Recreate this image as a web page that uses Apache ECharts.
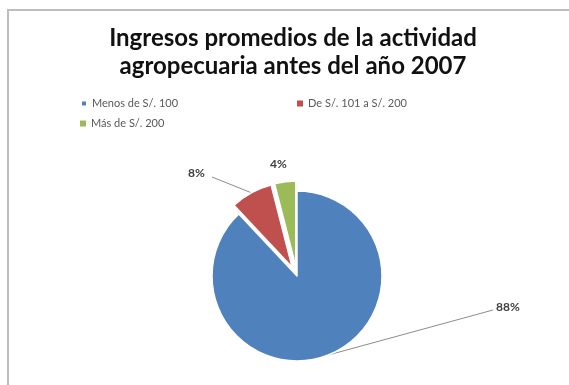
<!DOCTYPE html>
<html>
<head>
<meta charset="utf-8">
<script src="https://cdn.jsdelivr.net/npm/echarts@6/dist/echarts.min.js"></script>
<style>
  html, body { margin: 0; padding: 0; background: #ffffff; }
  #chart { width: 569px; height: 385px; }
</style>
</head>
<body>
<div id="chart"></div>
<script>
// Income brackets and their share of households (percent)
const categories = ['Menos de S/. 100', 'De S/. 101 a S/. 200', 'Más de S/. 200'];
const shares = [88, 8, 4];
const colors = ['#4F81BD', '#C0504D', '#9BBB59'];
const titleLines = ['Ingresos promedios de la actividad', 'agropecuaria antes del año 2007'];

const FONT = 'Lato, "Open Sans", sans-serif';

const PIE_CENTER = [297, 276];
const PIE_RADIUS = 85;
// How far each slice is pulled out from the centre
const explode = [0, 10, 10];

const legendSpots = [
  { left: 80, top: 98 },
  { left: 297, top: 98 },
  { left: 80, top: 118 }
];

// Where each percentage label sits and where its leader line meets it
const labelSpots = [
  { x: 496, y: 307, lineEnd: [493, 310] },
  { x: 188, y: 173, lineEnd: [212, 177] },
  { x: 270, y: 164, lineEnd: null }
];

const chart = echarts.init(document.getElementById('chart'), null, { renderer: 'canvas' });

// Centre of each slice after being pulled outward along its middle angle
const total = shares.reduce((a, b) => a + b, 0);
let acc = 0;
const sliceCenters = shares.map((v, i) => {
  const mid = ((acc + v / 2) / total) * 2 * Math.PI; // clockwise from 12 o'clock
  acc += v;
  return [
    PIE_CENTER[0] + explode[i] * Math.sin(mid),
    PIE_CENTER[1] - explode[i] * Math.cos(mid)
  ];
});

// One pie layer per slice: every layer holds the full data so angles and
// percentages stay the same, but only its own slice is painted.
const pieLayers = categories.map((_, k) => ({
  type: 'pie',
  center: sliceCenters[k],
  radius: PIE_RADIUS,
  startAngle: 90,
  clockwise: true,
  percentPrecision: 0,
  silent: true,
  emphasis: { disabled: true },
  label: {
    show: true,
    position: 'outside',
    formatter: '{d}%',
    color: '#404040',
    fontSize: 12,
    fontWeight: 'bold',
    fontFamily: FONT
  },
  labelLine: {
    show: true,
    length: 10,
    length2: 10,
    lineStyle: { color: '#8c8c8c', width: 1 }
  },
  labelLayout: function (params) {
    const spot = labelSpots[params.dataIndex];
    const out = { x: spot.x, y: spot.y, align: 'left', verticalAlign: 'middle' };
    if (spot.lineEnd && params.labelLinePoints) {
      out.labelLinePoints = [params.labelLinePoints[0], spot.lineEnd];
    }
    return out;
  },
  data: categories.map((name, i) => ({
    name: name,
    value: shares[i],
    itemStyle: i === k
      ? { color: colors[i], borderColor: '#ffffff', borderWidth: 1.5 }
      : { color: 'rgba(0,0,0,0)', borderWidth: 0 },
    label: { show: i === k },
    labelLine: { show: i === k && labelSpots[i].lineEnd !== null }
  }))
}));

const option = {
  animation: false,
  backgroundColor: '#ffffff',
  graphic: [
    {
      type: 'rect',
      silent: true,
      shape: { x: 8, y: 10, width: 620, height: 420 },
      style: { fill: 'none', stroke: '#bdbdbd', lineWidth: 2 }
    },
    {
      type: 'text',
      silent: true,
      x: 293, y: 38,
      style: {
        text: titleLines[0], fill: '#111111',
        font: 'bold 24px ' + FONT, textAlign: 'center', textVerticalAlign: 'middle'
      }
    },
    {
      type: 'text',
      silent: true,
      x: 293, y: 66,
      style: {
        text: titleLines[1], fill: '#111111',
        font: 'bold 24px ' + FONT, textAlign: 'center', textVerticalAlign: 'middle'
      }
    }
  ],
  legend: categories.map((name, i) => ({
    data: [{ name: name, itemStyle: { color: colors[i] } }],
    left: legendSpots[i].left,
    top: legendSpots[i].top,
    padding: 0,
    icon: 'rect',
    itemWidth: 6,
    itemHeight: 6,
    selectedMode: false,
    textStyle: { color: '#595959', fontSize: 11, fontFamily: FONT }
  })),
  series: pieLayers
};

chart.setOption(option);
</script>
</body>
</html>
